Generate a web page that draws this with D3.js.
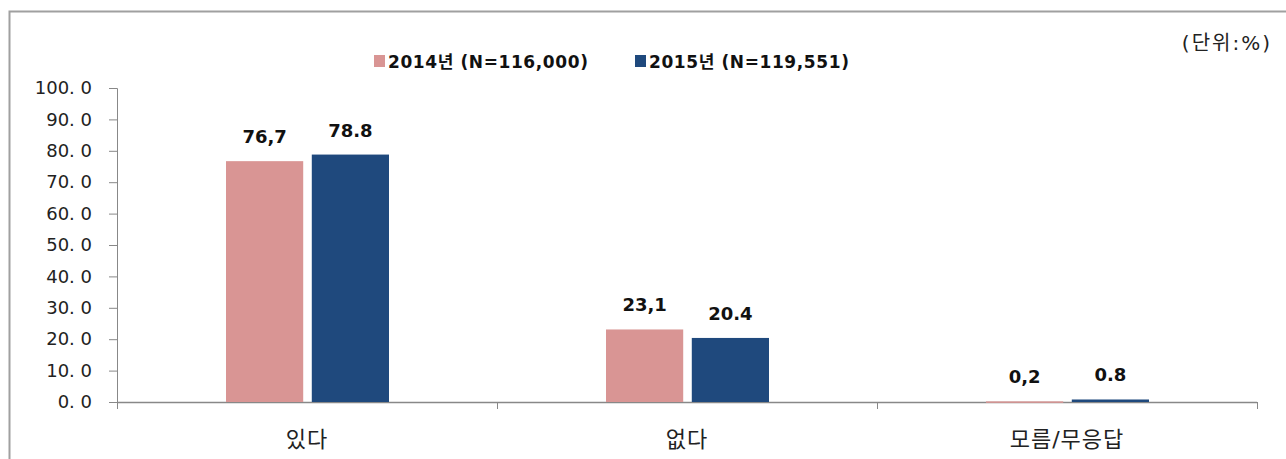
<!DOCTYPE html>
<html>
<head>
<meta charset="utf-8">
<script src="https://cdn.jsdelivr.net/npm/d3@7"></script>
<style>
  body { margin: 0; background: #fff; }
  svg text { font-family: "DejaVu Sans", "Noto Sans CJK KR", sans-serif; }
</style>
</head>
<body>
<svg width="1286" height="459"></svg>
<script>
const categories = ['있다', '없다', '모름/무응답'];
const seriesNames = ['2014년 (N=116,000)', '2015년 (N=119,551)'];
const values2014 = [76.7, 23.1, 0.2];
const values2015 = [78.8, 20.4, 0.8];
const valueLabels2014 = ['76,7', '23,1', '0,2'];
const valueLabels2015 = ['78.8', '20.4', '0.8'];
const yTicks = [0, 10, 20, 30, 40, 50, 60, 70, 80, 90, 100];
const colors = ['#d99594', '#1f497d'];

const svg = d3.select('svg');

// outer frame (right / bottom edges fall outside the picture)
svg.append('rect')
    .attr('x', 9.5).attr('y', 11.5)
    .attr('width', 1300).attr('height', 480)
    .attr('fill', 'none')
    .attr('stroke', '#a0a0a0')
    .attr('stroke-width', 2);

const x0 = d3.scaleBand().domain(categories).range([117, 1257]);
const x1 = d3.scaleBand().domain([0, 1]).range([-81, 82]).paddingInner(0.1);
const y = d3.scaleLinear().domain([0, 100]).range([402, 88]);

// y axis
const yAxis = svg.append('g')
    .attr('transform', 'translate(117,0)')
    .call(d3.axisLeft(y).tickValues(yTicks).tickSize(8).tickFormat(d3.format('.1f')));
yAxis.select('.domain').attr('stroke', '#888').attr('d', 'M-8,88.5H0.5V402');
yAxis.selectAll('.tick line').attr('stroke', '#888');
yAxis.selectAll('.tick text')
    .attr('x', -25)
    .attr('fill', '#222')
    .attr('font-size', 18)
    .text(d => d.toFixed(1).replace('.', '. '));

// x axis
const xAxis = svg.append('g')
    .attr('transform', 'translate(0,402)');
xAxis.append('line')
    .attr('x1', 117).attr('x2', 1257)
    .attr('y1', 0.5).attr('y2', 0.5)
    .attr('stroke', '#888').attr('stroke-width', 1.5);
xAxis.selectAll('.bnd')
    .data(categories.map(c => x0(c)).concat([1257]))
    .enter().append('line')
    .attr('x1', d => d + 0.5).attr('x2', d => d + 0.5)
    .attr('y1', 0).attr('y2', 7)
    .attr('stroke', '#888');
xAxis.selectAll('.lab')
    .data(categories)
    .enter().append('text')
    .attr('x', d => x0(d) + x0.bandwidth() / 2)
    .attr('y', 45)
    .attr('text-anchor', 'middle')
    .attr('font-size', 22)
    .attr('letter-spacing', 1)
    .attr('fill', '#222')
    .text(d => d);

// bars
const series = [values2014, values2015];
const seriesLabels = [valueLabels2014, valueLabels2015];
series.forEach((vals, s) => {
    const g = svg.append('g');
    g.selectAll('rect')
        .data(vals)
        .enter().append('rect')
        .attr('x', (d, i) => x0(categories[i]) + x0.bandwidth() / 2 + x1(s))
        .attr('y', d => y(d))
        .attr('width', x1.bandwidth())
        .attr('height', d => Math.max(y(0) - y(d), 1.5))
        .attr('fill', colors[s]);
    g.selectAll('text')
        .data(vals)
        .enter().append('text')
        .attr('x', (d, i) => x0(categories[i]) + x0.bandwidth() / 2 + x1(s) + x1.bandwidth() / 2)
        .attr('y', d => y(d) - 18)
        .attr('text-anchor', 'middle')
        .attr('font-size', 18)
        .attr('font-weight', 'bold')
        .attr('fill', '#111')
        .text((d, i) => seriesLabels[s][i]);
});

// legend
const legendX = [374, 635];
seriesNames.forEach((name, s) => {
    svg.append('rect')
        .attr('x', legendX[s]).attr('y', 55)
        .attr('width', 11).attr('height', 12)
        .attr('fill', colors[s]);
    svg.append('text')
        .attr('x', legendX[s] + 14).attr('y', 68)
        .attr('font-size', 17)
        .attr('font-weight', 'bold')
        .attr('letter-spacing', 0.6)
        .attr('fill', '#111')
        .text(name);
});

// unit note
svg.append('text')
    .attr('x', 1272).attr('y', 50)
    .attr('text-anchor', 'end')
    .attr('font-size', 20)
    .attr('letter-spacing', 2)
    .attr('fill', '#222')
    .text('(단위:%)');
</script>
</body>
</html>
